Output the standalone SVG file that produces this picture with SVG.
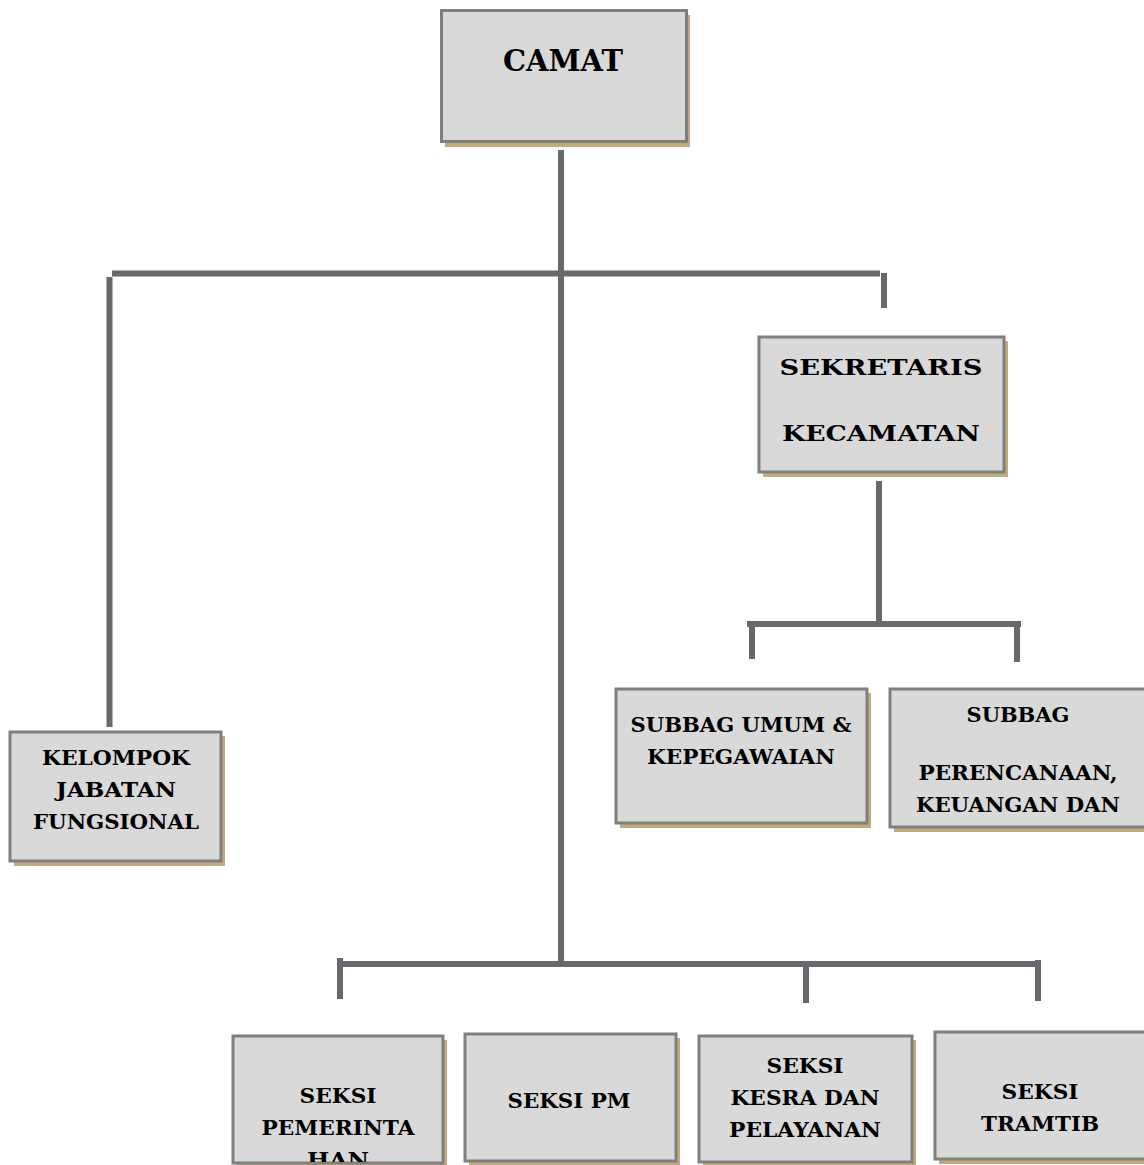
<svg xmlns="http://www.w3.org/2000/svg" width="1144" height="1165" viewBox="0 0 1144 1165">
<style>
.box{fill:#D9D9D9;stroke:#7F7F7F;stroke-width:3}
.sh{fill:#C0AA7E}
.t{font-family:"DejaVu Serif","Liberation Serif",serif;font-weight:bold;fill:#000;text-anchor:middle}
.s{font-size:20px}
.m{font-size:23px}
.l{font-size:29px}
.c{stroke:#69686D;stroke-width:6;fill:none}
</style>
<defs>
<clipPath id="clipPem"><rect x="234" y="1037" width="208" height="125"/></clipPath>
</defs>
<rect width="1144" height="1165" fill="#fff"/>
<g id="connectors">
<line class="c" x1="561" y1="150" x2="561" y2="966"/>
<line class="c" x1="112" y1="273.5" x2="880" y2="273.5"/>
<line class="c" x1="109.5" y1="277" x2="109.5" y2="727"/>
<line class="c" x1="884" y1="273" x2="884" y2="308"/>
<line class="c" x1="879" y1="481" x2="879" y2="622"/>
<line class="c" x1="747" y1="624" x2="1021" y2="624"/>
<line class="c" x1="752" y1="624" x2="752" y2="659"/>
<line class="c" x1="1017" y1="624" x2="1017" y2="662"/>
<line class="c" x1="337" y1="964" x2="1035" y2="964"/>
<line class="c" x1="340" y1="958" x2="340" y2="999"/>
<line class="c" x1="806" y1="964" x2="806" y2="1003"/>
<line class="c" x1="1038" y1="960" x2="1038" y2="1001"/>
</g>
<g id="camat">
<rect class="sh" x="445" y="15" width="245" height="132"/>
<rect class="box" x="441.5" y="10.5" width="245" height="131"/>
<text class="t l" x="563" y="71" textLength="120" lengthAdjust="spacingAndGlyphs">CAMAT</text>
</g>
<g id="sekretaris">
<rect class="sh" x="763" y="341" width="245" height="136"/>
<rect class="box" x="759" y="337" width="245" height="135"/>
<text class="t m" x="881" y="375" textLength="203" lengthAdjust="spacingAndGlyphs">SEKRETARIS</text>
<text class="t m" x="881" y="441" textLength="198" lengthAdjust="spacingAndGlyphs">KECAMATAN</text>
</g>
<g id="subbag-umum">
<rect class="sh" x="620" y="693" width="251" height="135"/>
<rect class="box" x="616" y="689" width="251" height="134"/>
<text class="t s" x="741" y="732" textLength="221" lengthAdjust="spacingAndGlyphs">SUBBAG UMUM &amp;</text>
<text class="t s" x="741" y="764" textLength="188" lengthAdjust="spacingAndGlyphs">KEPEGAWAIAN</text>
</g>
<g id="subbag-perencanaan">
<rect class="sh" x="894" y="693" width="256" height="139"/>
<rect class="box" x="890" y="689" width="258" height="138"/>
<text class="t s" x="1018" y="722" textLength="103" lengthAdjust="spacingAndGlyphs">SUBBAG</text>
<text class="t s" x="1018" y="780" textLength="199" lengthAdjust="spacingAndGlyphs">PERENCANAAN,</text>
<text class="t s" x="1018" y="812" textLength="204" lengthAdjust="spacingAndGlyphs">KEUANGAN DAN</text>
</g>
<g id="kelompok">
<rect class="sh" x="14" y="736" width="211" height="130"/>
<rect class="box" x="10" y="732" width="211" height="129"/>
<text class="t s" x="116" y="765" textLength="148" lengthAdjust="spacingAndGlyphs">KELOMPOK</text>
<text class="t s" x="116" y="797" textLength="120" lengthAdjust="spacingAndGlyphs">JABATAN</text>
<text class="t s" x="116" y="829" textLength="166" lengthAdjust="spacingAndGlyphs">FUNGSIONAL</text>
</g>
<g id="seksi-pemerintahan">
<rect class="sh" x="237" y="1040" width="210" height="130"/>
<rect class="box" x="233" y="1036" width="210" height="127"/>
<text class="t s" x="338" y="1103" textLength="77" lengthAdjust="spacingAndGlyphs">SEKSI</text>
<text class="t s" x="338" y="1135" textLength="153" lengthAdjust="spacingAndGlyphs">PEMERINTA</text>
<text class="t s" x="338" y="1167" clip-path="url(#clipPem)" textLength="62" lengthAdjust="spacingAndGlyphs">HAN</text>
</g>
<g id="seksi-pm">
<rect class="sh" x="469" y="1038" width="211" height="130"/>
<rect class="box" x="465" y="1034" width="211" height="127"/>
<text class="t s" x="569" y="1108" textLength="123" lengthAdjust="spacingAndGlyphs">SEKSI PM</text>
</g>
<g id="seksi-kesra">
<rect class="sh" x="703" y="1040" width="213" height="127"/>
<rect class="box" x="699" y="1036" width="213" height="126"/>
<text class="t s" x="805" y="1073" textLength="77" lengthAdjust="spacingAndGlyphs">SEKSI</text>
<text class="t s" x="805" y="1105" textLength="149" lengthAdjust="spacingAndGlyphs">KESRA DAN</text>
<text class="t s" x="805" y="1137" textLength="152" lengthAdjust="spacingAndGlyphs">PELAYANAN</text>
</g>
<g id="seksi-tramtib">
<rect class="sh" x="939" y="1036" width="212" height="128"/>
<rect class="box" x="935" y="1032" width="214" height="127"/>
<text class="t s" x="1040" y="1099" textLength="77" lengthAdjust="spacingAndGlyphs">SEKSI</text>
<text class="t s" x="1040" y="1131" textLength="118" lengthAdjust="spacingAndGlyphs">TRAMTIB</text>
</g>
</svg>
